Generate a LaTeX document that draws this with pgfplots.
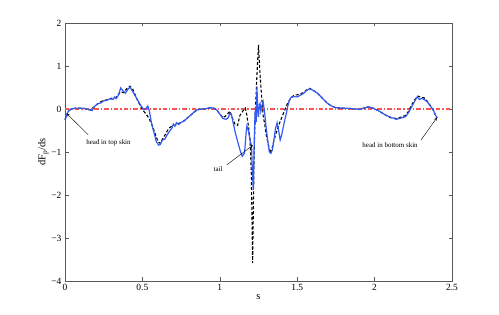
\documentclass[border=0pt]{standalone}
\usepackage{fontspec}
\setmainfont{Liberation Serif}
\usepackage{pgfplots}
\pgfplotsset{compat=1.18}
\usetikzlibrary{calc}
\definecolor{mblue}{RGB}{50,90,245}
\definecolor{mred}{RGB}{250,85,85}
\begin{document}
\begin{tikzpicture}
\begin{axis}[
  name=ax,
  at={(0,0)}, anchor=south west,
  scale only axis, width=387bp, height=258bp,
  xmin=0, xmax=2.5, ymin=-4, ymax=2,
  xtick={0,0.5,1,1.5,2,2.5}, xticklabels={0,0.5,1,1.5,2,2.5},
  ytick={-4,-3,-2,-1,0,1,2}, yticklabels={−4,−3,−2,−1,0,1,2},
  tick align=inside, tick pos=both,
  major tick length=3.5bp,
  axis line style={black!65, line width=0.6pt},
  every tick/.style={black!65, line width=0.5pt},
  tick label style={font=\fontsize{9.5}{10}\selectfont},
  xlabel={s}, ylabel={dF$_{\mathrm{p}}$/ds},
  label style={font=\fontsize{10.5}{11}\selectfont},
  xlabel style={yshift=3bp},
  ylabel style={yshift=-4bp},
  clip=false,
]
\addplot[mred, line width=1.1pt, dash pattern=on 4.5pt off 2pt on 1.3pt off 2pt] coordinates {(0,0) (2.5,0)};
\addplot[black, line width=1.1pt, dash pattern=on 3pt off 2pt] coordinates {
(0.0,-0.25) (0.02,-0.05) (0.04,0.0) (0.07,0.02) (0.10,0.02) (0.13,0.01) (0.16,-0.02)
(0.19,0.05) (0.22,0.15) (0.25,0.2) (0.28,0.22) (0.3,0.25) (0.33,0.27) (0.36,0.4)
(0.38,0.38) (0.4,0.48) (0.42,0.53) (0.44,0.45) (0.46,0.27) (0.48,0.12) (0.5,-0.02)
(0.52,-0.1) (0.54,-0.2) (0.56,-0.35) (0.58,-0.55) (0.6,-0.75) (0.615,-0.8) (0.63,-0.7)
(0.65,-0.58) (0.67,-0.45) (0.69,-0.4) (0.71,-0.38) (0.73,-0.34) (0.76,-0.3) (0.8,-0.18)
(0.85,-0.03) (0.88,0.0) (0.91,0.01) (0.94,0.03) (0.96,0.02) (0.98,-0.02) (1.0,-0.12)
(1.02,-0.2) (1.035,-0.17) (1.05,-0.12) (1.065,-0.05) (1.08,-0.2) (1.1,-0.37) (1.115,-0.38)
(1.13,-0.15) (1.15,-0.04) (1.165,0.02) (1.175,-0.15) (1.185,-0.4) (1.195,-0.7) (1.203,-1.4)
(1.208,-2.5) (1.212,-3.58) (1.216,-2.5) (1.222,-1.0) (1.23,0.0) (1.24,0.8) (1.25,1.49)
(1.26,0.8) (1.27,0.3) (1.28,-0.15) (1.29,-0.35) (1.3,-0.6) (1.315,-0.85) (1.33,-1.03)
(1.345,-0.8) (1.36,-0.6) (1.38,-0.38) (1.4,-0.2) (1.42,-0.02) (1.44,0.15) (1.46,0.26)
(1.48,0.32) (1.5,0.33) (1.52,0.35) (1.54,0.38) (1.56,0.44) (1.58,0.48) (1.6,0.44)
(1.63,0.37) (1.66,0.26) (1.69,0.15) (1.72,0.07) (1.75,0.03) (1.8,0.02) (1.85,0.01)
(1.9,-0.01) (1.93,0.02) (1.96,0.05) (1.99,0.02) (2.03,-0.05) (2.07,-0.14) (2.1,-0.2)
(2.14,-0.22) (2.17,-0.19) (2.2,-0.15) (2.22,-0.05) (2.24,0.1) (2.26,0.22) (2.28,0.3)
(2.3,0.27) (2.32,0.26) (2.34,0.18) (2.36,0.08) (2.38,-0.04) (2.4,-0.2)
};
\addplot[mblue, line width=1.2pt] coordinates {
(0.0,-0.25) (0.01,-0.15) (0.02,-0.06) (0.04,0.0) (0.07,0.02) (0.10,0.02) (0.13,0.01)
(0.16,-0.02) (0.175,-0.04) (0.19,0.06) (0.21,0.12) (0.23,0.14) (0.25,0.19) (0.27,0.2)
(0.29,0.24) (0.31,0.22) (0.32,0.28) (0.33,0.24) (0.345,0.32) (0.36,0.49) (0.375,0.42)
(0.39,0.37) (0.405,0.45) (0.42,0.51) (0.435,0.42) (0.45,0.33) (0.47,0.2) (0.49,0.08)
(0.51,-0.02) (0.525,0.02) (0.535,0.07) (0.545,-0.05) (0.56,-0.35) (0.575,-0.55)
(0.59,-0.76) (0.605,-0.84) (0.615,-0.83) (0.63,-0.72) (0.645,-0.7) (0.66,-0.6)
(0.675,-0.52) (0.69,-0.45) (0.7,-0.35) (0.71,-0.4) (0.72,-0.32) (0.735,-0.36)
(0.75,-0.31) (0.77,-0.28) (0.79,-0.21) (0.81,-0.15) (0.83,-0.08) (0.85,-0.02)
(0.88,0.0) (0.91,0.01) (0.94,0.03) (0.96,0.02) (0.98,-0.02) (1.0,-0.12) (1.02,-0.22)
(1.04,-0.24) (1.055,-0.2) (1.065,-0.1) (1.075,-0.12) (1.085,-0.3) (1.1,-0.55)
(1.115,-0.75) (1.13,-0.95) (1.145,-1.1) (1.16,-1.02) (1.17,-0.55) (1.175,-0.4)
(1.185,-0.5) (1.195,-0.72) (1.205,-0.85) (1.21,-1.4) (1.216,-1.88) (1.22,-1.2)
(1.224,-0.5) (1.228,-0.1) (1.232,0.05) (1.236,-0.3) (1.24,0.52) (1.245,0.0)
(1.25,-0.18) (1.255,0.1) (1.26,0.13) (1.265,-0.05) (1.27,0.05) (1.28,0.17) (1.29,-0.1)
(1.3,-0.45) (1.31,-0.75) (1.32,-1.0) (1.33,-1.03) (1.34,-0.95) (1.35,-0.7) (1.36,-0.45)
(1.37,-0.32) (1.38,-0.5) (1.39,-0.72) (1.4,-0.6) (1.41,-0.42) (1.42,-0.25) (1.43,-0.1)
(1.44,0.08) (1.45,0.2) (1.46,0.27) (1.48,0.29) (1.5,0.28) (1.52,0.32) (1.54,0.36)
(1.56,0.43) (1.58,0.47) (1.6,0.44) (1.63,0.37) (1.66,0.26) (1.69,0.15) (1.72,0.07)
(1.75,0.03) (1.8,0.02) (1.85,0.01) (1.9,-0.01) (1.93,0.02) (1.96,0.05) (1.99,0.02)
(2.03,-0.05) (2.07,-0.14) (2.11,-0.2) (2.14,-0.24) (2.17,-0.21) (2.2,-0.18) (2.22,-0.08)
(2.235,0.02) (2.25,0.12) (2.265,0.22) (2.275,0.28) (2.29,0.22) (2.305,0.25) (2.32,0.22)
(2.34,0.17) (2.36,0.07) (2.38,-0.03) (2.395,-0.15) (2.405,-0.21)
};
\node[font=\fontsize{7}{8}\selectfont, anchor=west] at (axis cs:0.115,-0.78) {head in top skin};
\draw[-stealth, line width=0.4pt] (axis cs:0.15,-0.6) -- (axis cs:0.012,-0.11);
\node[font=\fontsize{7}{8}\selectfont, anchor=east] at (axis cs:1.04,-1.40) {tail};
\draw[-stealth, line width=0.4pt] (axis cs:1.045,-1.30) -- (axis cs:1.214,-0.84);
\node[font=\fontsize{7}{8}\selectfont] at (axis cs:2.10,-0.85) {head in bottom skin};
\draw[-stealth, line width=0.4pt] (axis cs:2.30,-0.72) -- (axis cs:2.403,-0.2);
\end{axis}
\pgfresetboundingbox
\useasboundingbox ($(ax.south west)+(-65bp,-34bp)$) rectangle ($(ax.north east)+(47bp,23bp)$);
\end{tikzpicture}
\end{document}
